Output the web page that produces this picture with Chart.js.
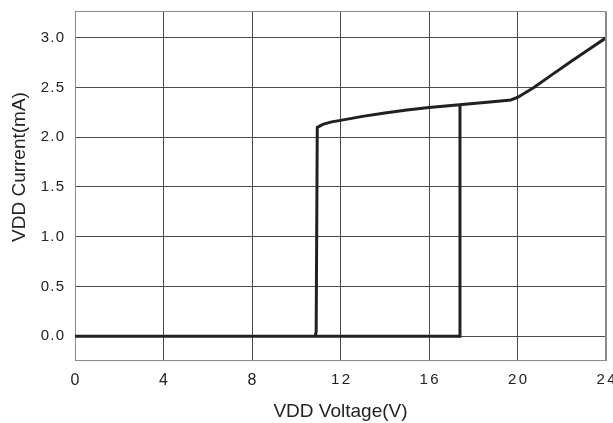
<!DOCTYPE html>
<html>
<head>
<meta charset="utf-8">
<script src="https://cdn.jsdelivr.net/npm/chart.js@4/dist/chart.umd.min.js"></script>
<style>
html,body{margin:0;padding:0;background:#fff;}
#wrap{width:613px;height:423px;}
</style>
</head>
<body>
<div id="wrap"><canvas id="c" width="613" height="423"></canvas></div>
<script>
// Rising branch (VDD increasing): voltage (V) and current (mA)
const riseX = [0, 10.85, 10.9, 10.95, 11.2, 11.6, 12, 13, 14, 15, 16, 17, 18, 19, 19.7, 20, 20.74, 21.5, 22.4, 23.2, 24];
const riseY = [0, 0, 0.04, 2.1, 2.13, 2.155, 2.17, 2.21, 2.245, 2.275, 2.30, 2.32, 2.34, 2.36, 2.375, 2.40, 2.50, 2.62, 2.76, 2.88, 3.0];
// Falling branch (UVLO drop)
const fallX = [17.4, 17.4, 10.9];
const fallY = [2.33, 0, 0];
// Axis ticks
const xTicks = [0, 4, 8, 12, 16, 20, 24];
const yTicks = [0, 0.5, 1.0, 1.5, 2.0, 2.5, 3.0];
const xTitle = 'VDD Voltage(V)';
const yTitle = 'VDD Current(mA)';

const toPts = (xs, ys) => xs.map((x, i) => ({x: x, y: ys[i]}));
const lineColor = '#231f20';
const gridDark = '#4a4a4a';
const gridEdge = '#8a8a8a';
const regular = "'Liberation Sans', Arial, sans-serif";
const HS = '\u200A';

const frame = {
  id: 'frame',
  afterDatasetsDraw(chart) {
    const {ctx, chartArea: a} = chart;
    ctx.save();
    ctx.strokeStyle = gridEdge;
    ctx.lineWidth = 1;
    ctx.beginPath();
    ctx.moveTo(Math.round(a.left) + 0.5, Math.round(a.top) + 0.5);
    ctx.lineTo(Math.round(a.right) - 0.5, Math.round(a.top) + 0.5);
    ctx.lineTo(Math.round(a.right) - 0.5, Math.round(a.bottom));
    ctx.stroke();
    ctx.restore();
  }
};

new Chart(document.getElementById('c'), {
  type: 'scatter',
  data: {
    datasets: [
      {data: toPts(riseX, riseY), showLine: true, borderColor: lineColor, borderWidth: 3, pointRadius: 0, tension: 0, fill: false},
      {data: toPts(fallX, fallY), showLine: true, borderColor: lineColor, borderWidth: 3, pointRadius: 0, tension: 0, fill: false}
    ]
  },
  options: {
    responsive: false,
    animation: false,
    events: [],
    layout: {padding: {top: 11, right: 7, left: 0, bottom: 0}},
    plugins: {legend: {display: false}, tooltip: {enabled: false}},
    scales: {
      x: {
        type: 'linear',
        min: 0, max: 24,
        afterBuildTicks: s => { s.ticks = xTicks.map(v => ({value: v})); },
        afterFit: s => { s.height = 63; s.paddingLeft = 0; s.paddingRight = 0; },
        grid: {
          color: c => (c.tick && (c.tick.value === 24 || c.tick.value === 0)) ? gridEdge : gridDark,
          lineWidth: 1,
          drawTicks: false
        },
        border: {color: gridEdge, width: 1},
        ticks: {
          padding: 11,
          color: '#222',
          maxRotation: 0,
          callback: v => (v >= 10 ? String(v).split('').join(HS + HS) : String(v)),
          font: c => (c.tick && c.tick.value >= 10) ? {family: regular, size: 15} : {family: regular, size: 16}
        },
        title: {display: true, text: xTitle, color: '#222', font: {family: regular, size: 19}, padding: {top: 0, bottom: 0}}
      },
      y: {
        type: 'linear',
        min: -0.24, max: 3.27,
        afterBuildTicks: s => { s.ticks = yTicks.map(v => ({value: v})); },
        afterFit: s => { s.width = 75; s.paddingTop = 0; s.paddingBottom = 0; },
        grid: {color: gridDark, lineWidth: 1, drawTicks: false},
        border: {color: gridEdge, width: 1},
        ticks: {
          padding: 11,
          color: '#222',
          callback: v => Number(v).toFixed(1).split('').join(HS),
          font: {family: regular, size: 15}
        },
        title: {display: true, text: '       ' + yTitle, color: '#222', font: {family: regular, size: 19}, padding: {top: 8, bottom: 0}}
      }
    }
  },
  plugins: [frame]
});
</script>
</body>
</html>
